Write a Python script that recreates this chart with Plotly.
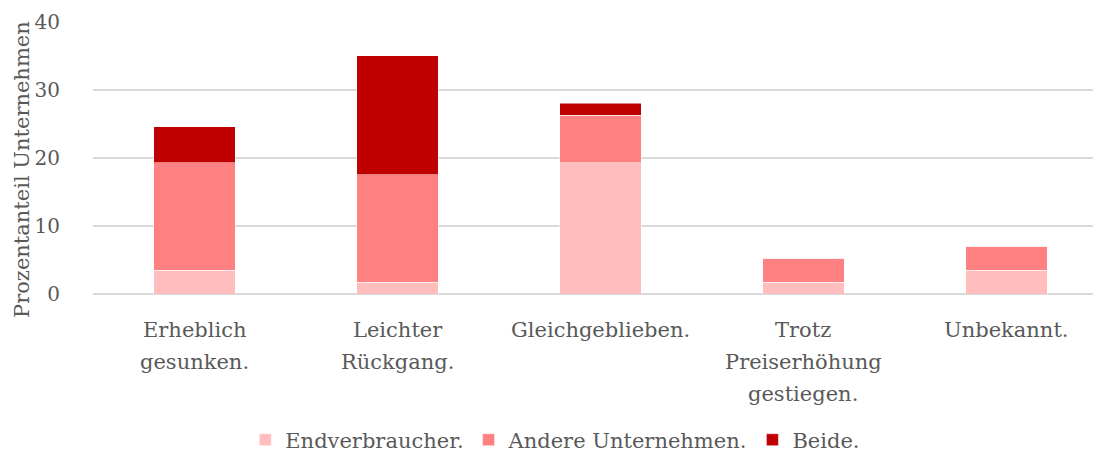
import plotly.graph_objects as go

categories = ["Erheblich gesunken.", "Leichter Rückgang.", "Gleichgeblieben.",
              "Trotz Preiserhöhung gestiegen.", "Unbekannt."]
category_lines = [["Erheblich", "gesunken."], ["Leichter", "Rückgang."], ["Gleichgeblieben."],
                  ["Trotz", "Preiserhöhung", "gestiegen."], ["Unbekannt."]]
endverbraucher = [3.5, 1.75, 19.3, 1.75, 3.5]
andere = [15.8, 15.8, 7.0, 3.5, 3.5]
beide = [5.3, 17.5, 1.75, 0, 0]
series_names = ["Endverbraucher.", "Andere Unternehmen.", "Beide."]
colors = ["#FFBDBD", "#FF8080", "#C00000"]
yticks = [0, 10, 20, 30, 40]

FONT = "DejaVu Serif"
TXT = "#595959"
FS = 20

fig = go.Figure()
for name, vals, col in zip(series_names, [endverbraucher, andere, beide], colors):
    fig.add_trace(go.Bar(x=categories, y=vals, name=name, marker_color=col,
                         marker_line_width=0.5, marker_line_color="white", width=0.4))

# category labels, one annotation per line (to reproduce the wide line spacing)
for cat, lines in zip(categories, category_lines):
    for k, line in enumerate(lines):
        fig.add_annotation(x=cat, y=0, xref="x", yref="y", text=line, showarrow=False,
                           yanchor="middle", xanchor="center", yshift=-(36 + 32 * k),
                           font=dict(family=FONT, size=FS + 1, color=TXT))

fig.add_annotation(x=0, y=0.5, xref="paper", yref="paper", text="Prozentanteil Unternehmen",
                   textangle=-90, showarrow=False, xanchor="center", yanchor="middle",
                   xshift=-71, yshift=-12, font=dict(family=FONT, size=FS + 1, color=TXT))

fig.update_layout(
    barmode="stack",
    width=1101, height=461,
    margin=dict(l=85, r=0, t=14, b=175),
    paper_bgcolor="white", plot_bgcolor="white",
    font=dict(family=FONT, size=FS, color=TXT),
    showlegend=True,
    legend=dict(orientation="h", x=0.455, xanchor="center", y=-0.537, yanchor="middle",
                font=dict(size=FS + 1, color=TXT), traceorder="normal"),
    xaxis=dict(range=[-0.5, 4.505], showgrid=False, showticklabels=False,
               ticks="", showline=False, zeroline=False, automargin=False),
    yaxis=dict(range=[0, 40], tickvals=yticks, showgrid=True, gridcolor="#D9D9D9", gridwidth=1.5,
               zeroline=True, zerolinecolor="#D9D9D9", zerolinewidth=1.5, automargin=False,
               tickfont=dict(size=FS, color=TXT), ticklabelstandoff=32),
)
fig.write_html("out.html")
